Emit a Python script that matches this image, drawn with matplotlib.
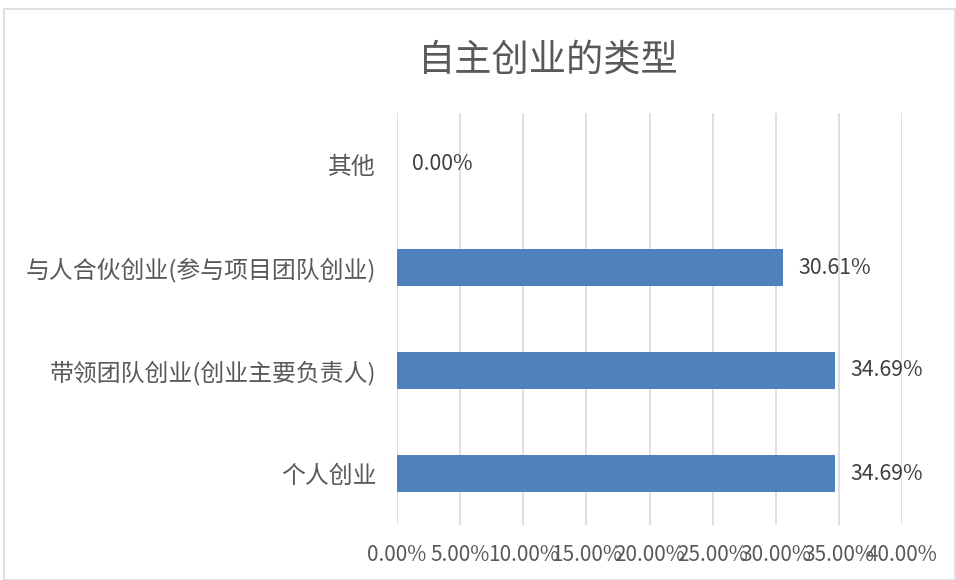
import matplotlib
matplotlib.use("Agg")
import matplotlib.pyplot as plt
from matplotlib.patches import Rectangle

plt.rcParams['font.family'] = ['Noto Sans CJK SC', 'DejaVu Sans']

categories = ["个人创业", "带领团队创业(创业主要负责人)", "与人合伙创业(参与项目团队创业)", "其他"]
values = [34.69, 34.69, 30.61, 0.00]
xticks = [0, 5, 10, 15, 20, 25, 30, 35, 40]
xtick_labels = ["0.00%", "5.00%", "10.00%", "15.00%", "20.00%", "25.00%", "30.00%", "35.00%", "40.00%"]
title = "自主创业的类型"

W, H = 956, 580
fig = plt.figure(figsize=(W / 100, H / 100), dpi=100)
fig.patches.append(Rectangle((4 / W, 0), 1 - 4 / W - 0.001, 1 - 9 / H, transform=fig.transFigure,
                             fill=False, edgecolor="#D9D9D9", linewidth=1.2))

ax = fig.add_axes([397 / W, 1 - 525 / H, (902 - 397) / W, (525 - 113) / H])
y = list(range(len(categories)))
ax.barh(y, values, height=0.35, color="#4F81BD", zorder=3)
ax.set_xlim(0, 40)
ax.set_ylim(-0.5, len(categories) - 0.5)
ax.set_xticks(xticks)
ax.set_xticklabels(xtick_labels, fontsize=15, color="#595959")
ax.set_yticks(y)
ax.set_yticklabels(categories, fontsize=17.2, color="#595959")
ax.tick_params(axis="both", length=0)
ax.tick_params(axis="x", pad=14)
ax.tick_params(axis="y", pad=15)
ax.grid(axis="x", color="#D9D9D9", linewidth=1.2, zorder=0)
for s in ax.spines.values():
    s.set_visible(False)

for yi, v in zip(y, values):
    ax.annotate(f"{v:.2f}%", xy=(v, yi), xytext=(11, 0), textcoords="offset points",
                va="center", ha="left", fontsize=15.3, color="#404040")

fig.text(548 / W, 1 - 60 / H, title, ha="center", va="center", fontsize=26.8, color="#595959")

fig.savefig("out.png", dpi=100)
